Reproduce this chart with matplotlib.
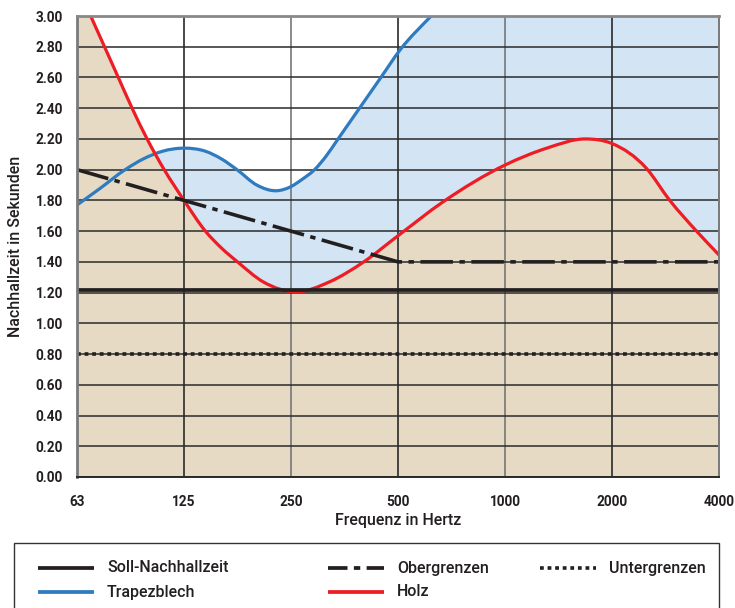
import matplotlib
matplotlib.use('Agg')
import matplotlib.pyplot as plt
import numpy as np
from matplotlib.path import Path
from matplotlib.patches import PathPatch, Rectangle
from matplotlib.lines import Line2D

plt.rcParams['font.family'] = ['Roboto', 'DejaVu Sans']

# ---------------- data ----------------
freq_labels = ['63', '125', '250', '500', '1000', '2000', '4000']
y_ticks = [0.0, 0.2, 0.4, 0.6, 0.8, 1.0, 1.2, 1.4, 1.6, 1.8, 2.0, 2.2, 2.4, 2.6, 2.8, 3.0]

soll_pos = [0, 6]
soll_values = [1.22, 1.22]

unter_pos = [0, 6]
unter_values = [0.80, 0.80]

ober_pos = [0, 1, 2, 3, 4, 5, 6]
ober_values = [2.00, 1.80, 1.60, 1.40, 1.40, 1.40, 1.40]

# positions are in octave steps from 63 Hz (0 = 63 Hz, 6 = 4000 Hz)
holz_pos = [0.0, 0.128, 0.257, 0.386, 0.515, 0.655, 0.815, 1.0, 1.2, 1.35, 1.5,
            1.74, 2.05, 2.36, 2.68, 3.0, 3.42, 4.0, 4.39, 4.75, 5.0,
            5.32, 5.54, 5.79, 6.0]
holz_values = [3.20, 3.00, 2.80, 2.60, 2.40, 2.20, 2.00, 1.80, 1.60, 1.49, 1.40,
               1.27, 1.205, 1.27, 1.40, 1.57, 1.79, 2.03, 2.14, 2.20, 2.17,
               2.01, 1.80, 1.60, 1.445]

trapez_pos = [0.0, 0.2, 0.45, 0.62, 0.8, 1.0, 1.2, 1.35, 1.495, 1.68, 1.87, 2.0,
              2.1, 2.22, 2.33, 2.43, 2.63, 2.83, 3.02, 3.31, 3.6, 4.0, 5.0, 6.0]
trapez_values = [1.77, 1.87, 2.00, 2.07, 2.12, 2.14, 2.12, 2.07, 2.00, 1.90, 1.863, 1.89,
                 1.935, 2.00, 2.09, 2.19, 2.39, 2.59, 2.78, 3.00, 3.20, 3.40, 3.60, 3.60]

# ---------------- style ----------------
BEIGE = '#E6DAC4'
LIGHTBLUE = '#D3E4F4'
BLUE = '#2F7BC0'
RED = '#EE1C25'
BLACK = '#231F20'
W, H = 735, 608


def smooth_path(xs, ys, base=None):
    xs = np.asarray(xs, float)
    ys = np.asarray(ys, float)
    m = np.gradient(ys, xs)
    verts, codes = [], []
    if base is not None:
        verts.append((xs[0], base)); codes.append(Path.MOVETO)
        verts.append((xs[0], ys[0])); codes.append(Path.LINETO)
    else:
        verts.append((xs[0], ys[0])); codes.append(Path.MOVETO)
    for i in range(len(xs) - 1):
        h = xs[i + 1] - xs[i]
        verts.append((xs[i] + h / 3, ys[i] + m[i] * h / 3))
        verts.append((xs[i + 1] - h / 3, ys[i + 1] - m[i + 1] * h / 3))
        verts.append((xs[i + 1], ys[i + 1]))
        codes += [Path.CURVE4] * 3
    if base is not None:
        verts.append((xs[-1], base)); codes.append(Path.LINETO)
        verts.append((xs[0], base)); codes.append(Path.CLOSEPOLY)
    return Path(verts, codes)


fig = plt.figure(figsize=(W / 100, H / 100), dpi=100)
ax = fig.add_axes([77 / W, 1 - 477 / H, (719 - 77) / W, (477 - 16) / H])

# fills
ax.add_patch(PathPatch(smooth_path(trapez_pos, trapez_values, base=0), facecolor=LIGHTBLUE,
                       edgecolor='none', zorder=1.0))
ax.add_patch(PathPatch(smooth_path(holz_pos, holz_values, base=0), facecolor=BEIGE,
                       edgecolor='none', zorder=1.1))

# curves
ax.add_patch(PathPatch(smooth_path(trapez_pos, trapez_values), facecolor='none',
                       edgecolor=BLUE, lw=2.3, zorder=4, capstyle='butt'))
ax.add_patch(PathPatch(smooth_path(holz_pos, holz_values), facecolor='none',
                       edgecolor=RED, lw=2.3, zorder=4.1, capstyle='butt'))

# reference lines
ax.plot(soll_pos, soll_values, color=BLACK, lw=2.7, zorder=5, solid_capstyle='butt')
ax.plot(unter_pos, unter_values, color=BLACK, lw=2.6, zorder=5,
        linestyle=(0, (1.05, 1.05)), dash_capstyle='butt')
ax.plot(ober_pos, ober_values, color=BLACK, lw=2.6, zorder=5,
        linestyle=(0, (9.0, 1.8, 1.5, 1.8)), dash_capstyle='butt')

ax.set_xlim(0, 6)
ax.set_ylim(0, 3.0)
ax.set_xticks(range(len(freq_labels)))
ax.set_xticklabels(freq_labels)
ax.set_yticks(y_ticks)
ax.set_yticklabels([f'{v:.2f}' for v in y_ticks])
ax.tick_params(axis='both', length=0, labelsize=9.8, colors='#231F20')
ax.tick_params(axis='y', pad=10)
ax.tick_params(axis='x', pad=13)
for lab in ax.get_xticklabels() + ax.get_yticklabels():
    lab.set_fontweight('bold')

ax.set_axisbelow(False)
ax.grid(True, color='#2a2a2a', lw=1.0)
for i, gl in enumerate(ax.get_xgridlines()):
    gl.set_color('#2a2a2a' if i % 2 == 1 else '#777777')
    gl.set_linewidth(1.2)
for gl in ax.get_ygridlines():
    gl.set_linewidth(1.1)

for side, col, lw in [('left', '#7a7a7a', 2.0), ('top', '#888888', 2.0),
                      ('right', '#7a7a7a', 1.4), ('bottom', '#2a2a2a', 1.4)]:
    ax.spines[side].set_color(col)
    ax.spines[side].set_linewidth(lw)
    ax.spines[side].set_zorder(6)

ax.set_xlabel('Frequenz in Hertz', fontsize=11.5, fontweight='medium', labelpad=3,
              color='#231F20')
ax.set_ylabel('Nachhallzeit in Sekunden', fontsize=11.5, fontweight='medium', labelpad=9,
              color='#231F20')

# ---------------- legend box ----------------
def fx(px):
    return px / W


def fy(py):
    return 1 - py / H


fig.add_artist(Rectangle((fx(14), fy(612)), fx(719) - fx(14), fy(543) - fy(612),
                         transform=fig.transFigure, facecolor='white', edgecolor='#333333',
                         lw=1.0))

legend_items = [
    ('Soll-Nachhallzeit', 38, 568, dict(color=BLACK, lw=2.7, solid_capstyle='butt')),
    ('Trapezblech', 38, 592, dict(color=BLUE, lw=2.7, solid_capstyle='butt')),
    ('Obergrenzen', 328, 568, dict(color=BLACK, lw=2.7, linestyle=(0, (5.2, 1.7, 1.7, 1.7)),
                                   dash_capstyle='butt')),
    ('Holz', 328, 592, dict(color=RED, lw=2.7, solid_capstyle='butt')),
    ('Untergrenzen', 540, 568, dict(color=BLACK, lw=2.6, linestyle=(0, (1.05, 1.05)),
                                    dash_capstyle='butt')),
]
for label, x0, yc, style in legend_items:
    fig.add_artist(Line2D([fx(x0), fx(x0 + 56)], [fy(yc), fy(yc)],
                          transform=fig.transFigure, **style))
    fig.text(fx(x0 + 69), fy(yc), label, fontsize=11.5, fontweight='medium',
             va='center', ha='left', color='#231F20')

fig.savefig('out.png', dpi=100)
